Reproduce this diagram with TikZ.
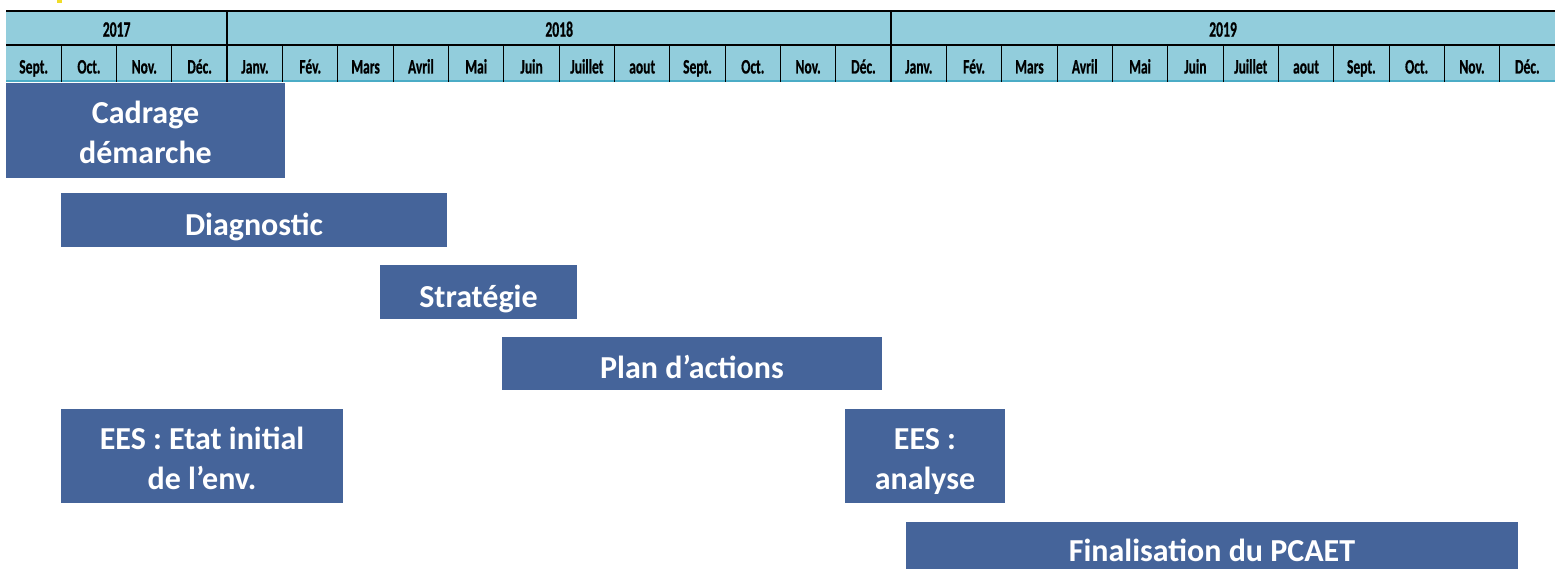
\documentclass[tikz,border=0pt]{standalone}
\usepackage{fontspec}
\usepackage{graphicx}
\setmainfont{Carlito}
\newfontfamily\hdrfont[FakeBold=0.8]{Carlito Bold}
\definecolor{hdr}{RGB}{146,205,220}
\definecolor{hdrline}{RGB}{75,172,198}
\definecolor{boxc}{RGB}{69,100,154}
\definecolor{yelmark}{RGB}{240,220,40}
\newcommand{\yeartxt}[1]{\scalebox{0.62}[1]{#1}}
\newcommand{\monthtxt}[1]{\scalebox{0.66}[1]{#1}}
\tikzset{
  yearlbl/.style={inner sep=0pt, font=\hdrfont\fontsize{22}{24}\selectfont, anchor=base},
  monthlbl/.style={inner sep=0pt, font=\hdrfont\fontsize{20.5}{22}\selectfont, anchor=base},
  task/.style={fill=boxc, draw=none, text=white, inner sep=0pt, align=center,
     font=\bfseries\fontsize{32}{40}\selectfont, text depth=0pt},
}
\begin{document}
\begin{tikzpicture}[x=1pt,y=-1pt]
\useasboundingbox (0,0) rectangle (1555,569);
\clip (0,0) rectangle (1555,569);
% small yellow mark
\fill[yelmark] (57,0) rectangle (62,3);
% header background
\fill[hdr] (6,11) rectangle (1555,82);
\draw[hdrline, line width=2pt] (6,81) -- (1555,81);
% month separators
\foreach \i in {1,...,27} {
  \draw[black, line width=1pt] ({6+\i*55.32},45) -- ({6+\i*55.32},82);
}
% year separators
\draw[black, line width=2pt] ({6+4*55.32},11) -- ({6+4*55.32},82);
\draw[black, line width=2pt] ({6+16*55.32},11) -- ({6+16*55.32},82);
% horizontal lines
\draw[black, line width=2.5pt] (6,11) -- (1555,11);
\draw[black, line width=2pt] (6,45) -- (1555,45);
% year labels
\node[yearlbl] (y2017) at ({6+2*55.32},36.7) {\yeartxt{2017}};
\node[yearlbl] (y2018) at ({6+10*55.32},36.7) {\yeartxt{2018}};
\node[yearlbl] (y2019) at ({6+22*55.32},36.7) {\yeartxt{2019}};
% month labels
\foreach \m [count=\i from 0] in {Sept.,Oct.,Nov.,Déc.,Janv.,Fév.,Mars,Avril,Mai,Juin,Juillet,aout,Sept.,Oct.,Nov.,Déc.,Janv.,Fév.,Mars,Avril,Mai,Juin,Juillet,aout,Sept.,Oct.,Nov.,Déc.} {
  \node[monthlbl] (m\i) at ({6+(\i+0.5)*55.32},73.5) {\monthtxt{\m}};
}
% tasks
\node[task, minimum width=279pt, minimum height=95pt, text height=66pt] (cadrage) at (145.5,130.5) {Cadrage\\démarche};
\node[task, minimum width=386pt, minimum height=54pt, text height=31pt] (diag) at (254,220) {Diagnostic};
\node[task, minimum width=197pt, minimum height=54pt, text height=30pt] (strat) at (478.5,292) {Stratégie};
\node[task, minimum width=380pt, minimum height=53pt, text height=29pt] (plan) at (692,363.5) {Plan d’actions};
\node[task, minimum width=282pt, minimum height=94pt, text height=66pt] (eesinit) at (202,456) {EES : Etat initial\\de l’env.};
\node[task, minimum width=160pt, minimum height=94pt, text height=66pt] (eesana) at (925,456) {EES :\\analyse};
\node[task, minimum width=612pt, minimum height=54pt, text height=24pt] (final) at (1212,549) {Finalisation du PCAET};
\end{tikzpicture}
\end{document}
